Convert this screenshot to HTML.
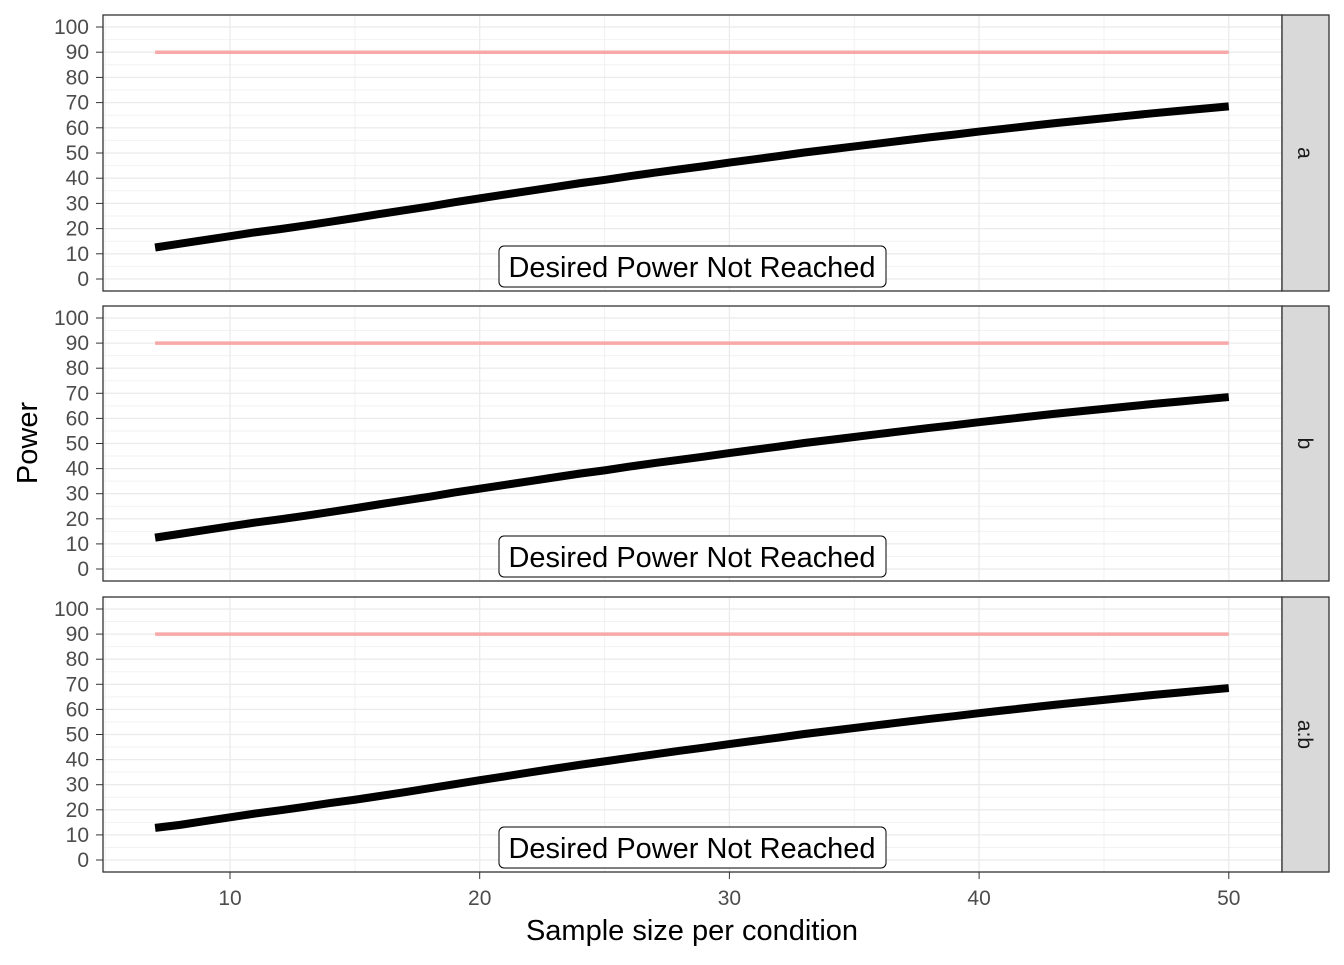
<!DOCTYPE html>
<html><head><meta charset="utf-8"><style>
body{margin:0;background:#fff}
svg text{font-family:"Liberation Sans",Arial,sans-serif}
</style></head><body>
<svg id="chart" width="1344" height="960" xmlns="http://www.w3.org/2000/svg"></svg>
<script>
const facets = ["a","b","a:b"];
const sampleSizes = [7,8,9,10,11,12,13,14,15,16,17,18,19,20,21,22,23,24,25,26,27,28,29,30,31,32,33,34,35,36,37,38,39,40,41,42,43,44,45,46,47,48,49,50];
const powerA = [12.5,14,15.5,17,18.5,19.8,21.2,22.7,24.2,25.8,27.3,28.8,30.5,32,33.5,35,36.5,38,39.3,40.8,42.2,43.5,44.8,46.2,47.5,48.8,50.2,51.4,52.6,53.8,55,56.2,57.3,58.5,59.6,60.7,61.8,62.8,63.8,64.8,65.8,66.7,67.6,68.5];
const powerB = [12.5,14,15.5,17,18.5,19.8,21.2,22.7,24.2,25.8,27.3,28.8,30.5,32,33.5,35,36.5,38,39.3,40.8,42.2,43.5,44.8,46.2,47.5,48.8,50.2,51.4,52.6,53.8,55,56.2,57.3,58.5,59.6,60.7,61.8,62.8,63.8,64.8,65.8,66.7,67.6,68.5];
const powerAB = [12.8,14,15.5,17,18.5,19.8,21.2,22.7,24,25.5,27,28.6,30.2,31.8,33.3,34.9,36.4,37.9,39.3,40.7,42.1,43.5,44.8,46.2,47.5,48.8,50.2,51.4,52.6,53.8,55,56.2,57.3,58.5,59.6,60.7,61.8,62.8,63.8,64.8,65.8,66.7,67.6,68.5];
const seriesList = [powerA, powerB, powerAB];
const desiredPower = 90;
const yTicks = [0,10,20,30,40,50,60,70,80,90,100];
const xTicks = [10,20,30,40,50];
const labelText = "Desired Power Not Reached";

const NS="http://www.w3.org/2000/svg";
const svg=document.getElementById('chart');
function mk(t,a,p){const e=document.createElementNS(NS,t);for(const k in a)e.setAttribute(k,a[k]);(p||svg).appendChild(e);return e;}
const L=103,R=1282;
const panels=[{top:15,bot:291},{top:306,bot:581},{top:597,bot:872}];
const xs=v=>230+(v-10)*24.97;
panels.forEach((p,i)=>{
  const ys=v=>p.bot-12+( -v*(p.bot-p.top-24)/100);
  const g=mk('g',{});
  
  
  mk('rect',{x:L,y:p.top,width:R-L,height:p.bot-p.top,fill:'#fff'},g);
  for(let v=5;v<=100;v+=10){mk('line',{x1:L,x2:R,y1:ys(v),y2:ys(v),stroke:'#f2f2f2','stroke-width':1},g);}
  for(let v=5;v<=55;v+=10){if(xs(v)>L&&xs(v)<R)mk('line',{x1:xs(v),x2:xs(v),y1:p.top,y2:p.bot,stroke:'#f2f2f2','stroke-width':1},g);}
  yTicks.forEach(v=>{
    mk('line',{x1:L,x2:R,y1:ys(v),y2:ys(v),stroke:'#ebebeb','stroke-width':1.3},g);
    mk('line',{x1:L-7,x2:L,y1:ys(v),y2:ys(v),stroke:'#333','stroke-width':1},g);
    const t=mk('text',{x:89,y:ys(v)+7,'text-anchor':'end','font-size':21,fill:'#4d4d4d'},g);t.textContent=v;
    
    
  });
  xTicks.forEach(v=>mk('line',{x1:xs(v),x2:xs(v),y1:p.top,y2:p.bot,stroke:'#ebebeb','stroke-width':1.3},g));
  const ref=mk('line',{x1:xs(sampleSizes[0]),x2:xs(sampleSizes[sampleSizes.length-1]),y1:ys(desiredPower),y2:ys(desiredPower),stroke:'#f8a8a8','stroke-width':3.5},g);
  
  
  const s=seriesList[i];
  const pl=mk('polyline',{points:sampleSizes.map((n,j)=>xs(n)+','+ys(s[j])).join(' '),fill:'none',stroke:'#000','stroke-width':8,'stroke-linejoin':'round'},g);
  
  
  const bx=mk('rect',{x:499,y:p.bot-45,width:387,height:41,rx:5,fill:'#fff',stroke:'#000','stroke-width':1},g);
  
  
  const lt=mk('text',{x:692,y:p.bot-14,'text-anchor':'middle','font-size':29,fill:'#000',textLength:367,lengthAdjust:'spacingAndGlyphs'},g);lt.textContent=labelText;
  
  
  mk('rect',{x:L,y:p.top,width:R-L,height:p.bot-p.top,fill:'none',stroke:'#333','stroke-width':1.3},g);
  const st=mk('rect',{x:R,y:p.top,width:47,height:p.bot-p.top,fill:'#d9d9d9',stroke:'#333','stroke-width':1.3},g);
  
  
  const cy=(p.top+p.bot)/2;
  const sl=mk('text',{x:R+23,y:cy,'text-anchor':'middle','font-size':21,fill:'#1a1a1a',transform:`rotate(90 ${R+23} ${cy}) translate(0 7)`},g);sl.textContent=facets[i];
  
  
});
xTicks.forEach(v=>{
  mk('line',{x1:xs(v),x2:xs(v),y1:872,y2:879,stroke:'#333','stroke-width':1});
  const t=mk('text',{x:xs(v),y:905,'text-anchor':'middle','font-size':21,fill:'#4d4d4d'});t.textContent=v;
  
  
});
const xt=mk('text',{x:692,y:940,'text-anchor':'middle','font-size':29,fill:'#000'});xt.textContent="Sample size per condition";


const yt=mk('text',{x:37,y:443,'text-anchor':'middle','font-size':29,fill:'#000',transform:'rotate(-90 37 443)'});yt.textContent="Power";


</script>
</body></html>
